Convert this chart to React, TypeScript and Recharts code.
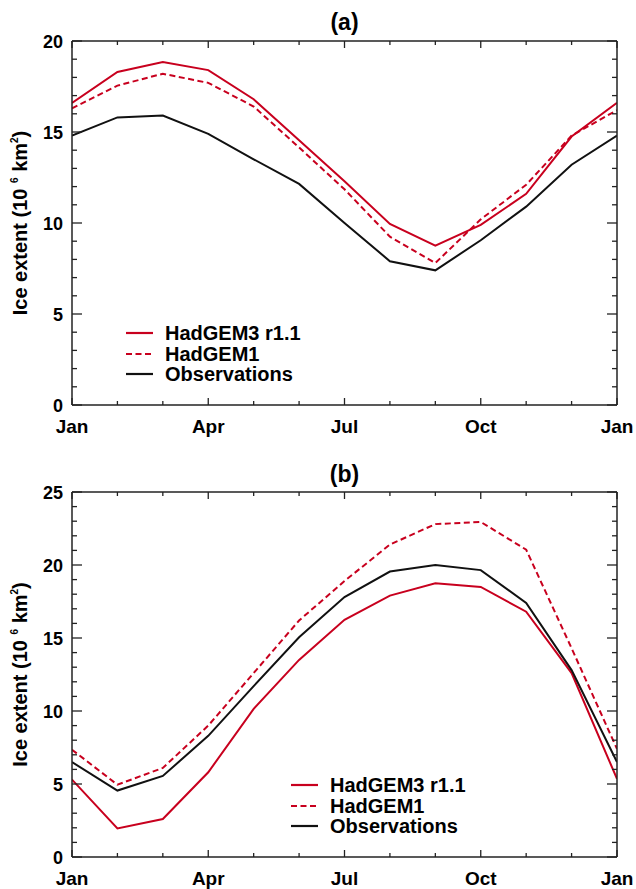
import { Legend, Line, LineChart, XAxis, YAxis } from 'recharts'

// month index 0..12 (Jan .. following Jan)
const MONTHS = [0, 1, 2, 3, 4, 5, 6, 7, 8, 9, 10, 11, 12]
const MONTH_TICKS = [0, 3, 6, 9, 12]
const MONTH_LABELS = ['Jan', 'Apr', 'Jul', 'Oct', 'Jan']

// (a) Arctic sea ice extent, 10^6 km2
const ARCTIC_HADGEM3 = [16.6, 18.3, 18.85, 18.4, 16.8, 14.55, 12.3, 9.95, 8.75, 9.9, 11.6, 14.75, 16.6]
const ARCTIC_HADGEM1 = [16.3, 17.55, 18.2, 17.7, 16.4, 14.15, 11.85, 9.25, 7.8, 10.2, 12.1, 14.8, 16.2]
const ARCTIC_OBS = [14.8, 15.8, 15.9, 14.9, 13.5, 12.15, 10.0, 7.9, 7.4, 9.05, 10.9, 13.2, 14.8]
const ARCTIC_Y_TICKS = [0, 5, 10, 15, 20]

// (b) Antarctic sea ice extent, 10^6 km2
const ANTARCTIC_HADGEM3 = [5.3, 1.95, 2.6, 5.8, 10.15, 13.5, 16.25, 17.9, 18.75, 18.5, 16.8, 12.6, 5.35]
const ANTARCTIC_HADGEM1 = [7.35, 4.95, 6.1, 9.0, 12.6, 16.2, 18.9, 21.4, 22.8, 22.95, 21.05, 14.3, 7.4]
const ANTARCTIC_OBS = [6.5, 4.55, 5.55, 8.3, 11.7, 15.05, 17.8, 19.55, 20.0, 19.65, 17.4, 12.8, 6.5]
const ANTARCTIC_Y_TICKS = [0, 5, 10, 15, 20, 25]

const RED = '#c8001e'
const BLACK = '#111111'
const FRAME = '#222222'
const FONT = '"Liberation Sans", Arial, Helvetica, sans-serif'

const SERIES = [
  { key: 'hadgem3', name: 'HadGEM3 r1.1', color: RED, dash: undefined as string | undefined },
  { key: 'hadgem1', name: 'HadGEM1', color: RED, dash: '6 3.5' },
  { key: 'obs', name: 'Observations', color: BLACK, dash: undefined as string | undefined },
]

function buildRows(hadgem3: number[], hadgem1: number[], obs: number[]) {
  return MONTHS.map((m, i) => ({ month: m, hadgem3: hadgem3[i], hadgem1: hadgem1[i], obs: obs[i] }))
}

function range(max: number) {
  return Array.from({ length: max + 1 }, (_, i) => i)
}

const textStyle = { fontFamily: FONT, fontWeight: 700, fill: '#000' }

function BottomTick({ x, y, payload }: any) {
  const idx = MONTH_TICKS.indexOf(payload.value)
  return (
    <g>
      <line x1={x} x2={x} y1={y} y2={y - (idx >= 0 ? 7 : 4)} stroke={FRAME} strokeWidth={1.3} />
      {idx >= 0 && (
        <text x={x} y={y + 28} textAnchor="middle" fontSize={19} style={textStyle}>
          {MONTH_LABELS[idx]}
        </text>
      )}
    </g>
  )
}

function TopTick({ x, y, payload }: any) {
  const major = MONTH_TICKS.includes(payload.value)
  return <line x1={x} x2={x} y1={y} y2={y + (major ? 7 : 4)} stroke={FRAME} strokeWidth={1.3} />
}

function makeLeftTick(labels: number[]) {
  return ({ x, y, payload }: any) => {
    const major = labels.includes(payload.value)
    return (
      <g>
        <line x1={x} x2={x + (major ? 10 : 5)} y1={y} y2={y} stroke={FRAME} strokeWidth={1.3} />
        {major && (
          <text x={x - 9} y={y + 6.5} textAnchor="end" fontSize={18} style={textStyle}>
            {payload.value}
          </text>
        )}
      </g>
    )
  }
}

function makeRightTick(labels: number[]) {
  return ({ x, y, payload }: any) => {
    const major = labels.includes(payload.value)
    return <line x1={x} x2={x - (major ? 10 : 5)} y1={y} y2={y} stroke={FRAME} strokeWidth={1.3} />
  }
}

function YTitle({ viewBox }: any) {
  const cy = viewBox.y + viewBox.height / 2
  return (
    <text x={27} y={cy} transform={`rotate(-90 27 ${cy})`} textAnchor="middle" fontSize={20} style={textStyle}>
      Ice extent (10{' '}
      <tspan fontSize={10} dy={-9}>6</tspan>
      <tspan dy={9}> km</tspan>
      <tspan fontSize={10} dy={-9}>2</tspan>
      <tspan dy={9}>)</tspan>
    </text>
  )
}

function LegendBox({ payload }: any) {
  const entries = payload ?? []
  // keep the plotting order rather than the legend's alphabetical sort
  const ordered = SERIES.map((s) => entries.find((e: any) => e.dataKey === s.key)).filter(Boolean)
  return (
    <div style={{ fontFamily: FONT, fontWeight: 700, fontSize: 20, lineHeight: '20.5px', color: '#000' }}>
      {ordered.map((entry: any) => {
        const s = SERIES.find((d) => d.key === entry.dataKey)
        return (
          <div key={entry.value} style={{ display: 'flex', alignItems: 'center', height: 20.5, whiteSpace: 'nowrap' }}>
            <svg width={39} height={10} style={{ flex: 'none' }}>
              <line x1={0} x2={27} y1={5} y2={5} stroke={entry.color} strokeWidth={2.2} strokeDasharray={s?.dash} />
            </svg>
            <span>{entry.value}</span>
          </div>
        )
      })}
    </div>
  )
}

interface IcePanelProps {
  title: string
  rows: ReturnType<typeof buildRows>
  yTicks: number[]
  height: number
  plotTop: number
  plotBottom: number
  titleBaseline: number
  legendLeft: number
  legendTop: number
}

function IcePanel({ title, rows, yTicks, height, plotTop, plotBottom, titleBaseline, legendLeft, legendTop }: IcePanelProps) {
  const yMax = yTicks[yTicks.length - 1]
  const yAll = range(yMax)
  return (
    <div style={{ position: 'relative', width: 636, height }}>
      <div
        style={{
          position: 'absolute',
          left: 72,
          width: 545,
          top: titleBaseline - 20,
          textAlign: 'center',
          fontFamily: FONT,
          fontWeight: 700,
          fontSize: 23,
          lineHeight: '23px',
        }}
      >
        {title}
      </div>
      <LineChart width={636} height={height} data={rows} margin={{ top: plotTop - 1, right: 18, bottom: 0, left: 12 }}>
        <XAxis
          dataKey="month"
          type="number"
          domain={[0, 12]}
          allowDataOverflow
          ticks={MONTHS}
          interval={0}
          height={height - plotBottom}
          tickSize={0}
          tickMargin={0}
          tickLine={false}
          tick={BottomTick}
          axisLine={{ stroke: FRAME, strokeWidth: 1.5 }}
        />
        <XAxis
          xAxisId="top"
          orientation="top"
          type="number"
          domain={[0, 12]}
          allowDataOverflow
          ticks={MONTHS}
          interval={0}
          height={1}
          tickSize={0}
          tickMargin={0}
          tickLine={false}
          tick={TopTick}
          axisLine={{ stroke: FRAME, strokeWidth: 1.5 }}
        />
        <YAxis
          type="number"
          domain={[0, yMax]}
          allowDataOverflow
          ticks={yAll}
          interval={0}
          width={60}
          tickSize={0}
          tickMargin={0}
          tickLine={false}
          tick={makeLeftTick(yTicks)}
          axisLine={{ stroke: FRAME, strokeWidth: 1.5 }}
          label={YTitle}
        />
        <YAxis
          yAxisId="right"
          orientation="right"
          type="number"
          domain={[0, yMax]}
          allowDataOverflow
          ticks={yAll}
          interval={0}
          width={1}
          tickSize={0}
          tickMargin={0}
          tickLine={false}
          tick={makeRightTick(yTicks)}
          axisLine={{ stroke: FRAME, strokeWidth: 1.5 }}
        />
        <Legend
          layout="vertical"
          align="center"
          verticalAlign="middle"
          content={LegendBox}
          wrapperStyle={{ left: legendLeft, top: legendTop, width: 'auto' }}
        />
        {SERIES.map((s) => (
          <Line
            key={s.key}
            type="linear"
            dataKey={s.key}
            name={s.name}
            stroke={s.color}
            strokeWidth={2}
            strokeDasharray={s.dash}
            dot={false}
            activeDot={false}
            isAnimationActive={false}
          />
        ))}
      </LineChart>
    </div>
  )
}

export default function App() {
  return (
    <div style={{ position: 'absolute', left: 0, top: 0, width: 636, height: 889, background: '#fff' }}>
      <IcePanel
        title="(a)"
        rows={buildRows(ARCTIC_HADGEM3, ARCTIC_HADGEM1, ARCTIC_OBS)}
        yTicks={ARCTIC_Y_TICKS}
        height={440}
        plotTop={41}
        plotBottom={405}
        titleBaseline={31}
        legendLeft={126}
        legendTop={323}
      />
      <IcePanel
        title="(b)"
        rows={buildRows(ANTARCTIC_HADGEM3, ANTARCTIC_HADGEM1, ANTARCTIC_OBS)}
        yTicks={ANTARCTIC_Y_TICKS}
        height={449}
        plotTop={52}
        plotBottom={417}
        titleBaseline={43}
        legendLeft={291}
        legendTop={335}
      />
    </div>
  )
}
